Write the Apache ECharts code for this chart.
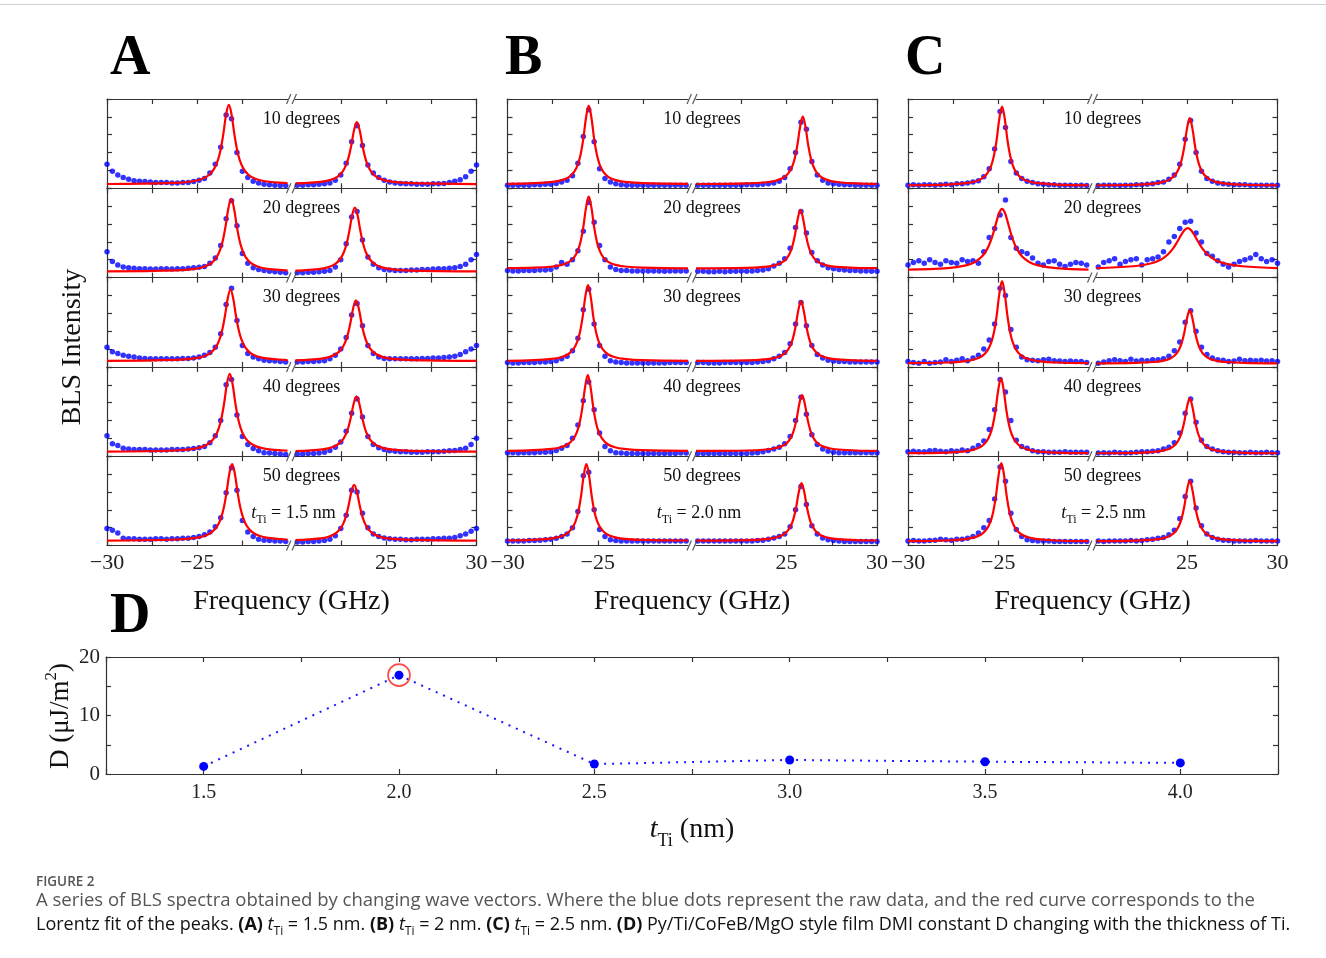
<!DOCTYPE html>
<html>
<head>
<meta charset="utf-8">
<script src="https://cdn.jsdelivr.net/npm/echarts/dist/echarts.min.js"></script>
<style>
  html, body { margin: 0; padding: 0; background: #fff; }
  #chart { width: 1326px; height: 958px; }
</style>
</head>
<body>
<div id="chart"></div>
<script>
// raw-data frequency grid (GHz), two sides of the broken axis
const freqLeft = [-30, -29.7, -29.4, -29.1, -28.8, -28.5, -28.2, -27.9, -27.6, -27.3, -27, -26.7, -26.4, -26.1, -25.8, -25.5, -25.2, -24.9, -24.6, -24.3, -24, -23.7, -23.4, -23.1, -22.8, -22.5, -22.2, -21.9, -21.6, -21.3, -21, -20.7, -20.4, -20.1]
const freqRight = [20.1, 20.4, 20.7, 21, 21.3, 21.6, 21.9, 22.2, 22.5, 22.8, 23.1, 23.4, 23.7, 24, 24.3, 24.6, 24.9, 25.2, 25.5, 25.8, 26.1, 26.4, 26.7, 27, 27.3, 27.6, 27.9, 28.2, 28.5, 28.8, 29.1, 29.4, 29.7, 30]

// Lorentz fit curves are read at these offsets (GHz) from each peak centre, plus the two axis ends
const fitOffsets = [-3, -2, -1.5, -1.1, -0.8, -0.6, -0.45, -0.3, -0.15, 0, 0.15, 0.3, 0.45, 0.6, 0.8, 1.1, 1.5, 2, 3]

const angleLabels = ['10 degrees', '20 degrees', '30 degrees', '40 degrees', '50 degrees']
const panelLetters = ['A', 'B', 'C']
const thicknessLabels = ['1.5', '2.0', '2.5']

const ticksLeft = [-30, -27.5, -25, -22.5]
const ticksRight = [22.5, 25, 27.5, 30]
const labelsLeft = [-30, -25]
const labelsRight = [25, 30]

// peak centres [left, right] per row
const peaksA = [[-23.25, 23.39], [-23.12, 23.28], [-23.16, 23.34], [-23.2, 23.37], [-23.07, 23.24]]
const peaksB = [[-25.5, 25.9], [-25.5, 25.77], [-25.54, 25.8], [-25.55, 25.86], [-25.63, 25.83]]
const peaksC = [[-24.79, 25.15], [-24.79, 25.04], [-24.79, 25.15], [-24.85, 25.15], [-24.83, 25.15]]

// ---- panel A (t_Ti = 1.5 nm) ----
const rawAL = [
  [27, 19, 15, 12, 10, 8.5, 8, 7.5, 7, 6.5, 6.5, 6.5, 6, 6, 6.5, 6.5, 7.5, 9, 11, 17, 27, 46, 82, 78, 40, 19, 12, 8, 6, 4.5, 4, 3.5, 3, 3],
  [29, 18, 14, 12, 11, 10.5, 10, 10, 9.5, 9.5, 10, 10, 9.5, 10, 10, 10.5, 11, 11.5, 12.5, 16, 22, 36, 66, 86, 58, 27, 16, 11, 9, 8, 7, 6.5, 6, 5.5],
  [22, 17, 15, 13, 12, 11, 10, 9.5, 9, 9, 9, 9, 9, 9, 9.5, 9.5, 10, 11, 13, 16, 22, 37, 70, 88, 52, 24, 15, 11, 9, 7.5, 7, 6.5, 6, 5.5],
  [23, 14, 12, 9, 8, 7.5, 7.5, 7.5, 7, 7, 7, 7, 7.5, 7.5, 7.5, 8, 8.5, 9.5, 11, 15, 23, 40, 80, 86, 46, 22, 13, 8.5, 6, 4, 3.5, 3, 2.5, 2],
  [19, 17, 14, 8, 7.5, 7.5, 7, 7, 7, 7.5, 7.5, 7, 7.5, 7.5, 8, 8, 9, 10, 12, 15, 21, 31, 59, 87, 62, 28, 15, 10, 7, 6, 5.5, 5, 5, 4.5]
]
const rawAR = [
  [3.5, 3.5, 4, 4, 4.5, 5, 6, 9, 15, 28, 52, 70, 48, 26, 17, 12, 9, 7, 6, 5.5, 5, 5, 4.5, 4.5, 4.5, 5, 5, 5.5, 6.5, 8, 9.5, 13, 19, 26],
  [5.5, 5.5, 6, 6, 6.5, 7, 8, 12, 20, 38, 68, 74, 42, 23, 15, 11, 9, 8.5, 8, 8, 8, 8.5, 8.5, 9, 9, 9.5, 10, 10, 10.5, 11, 12.5, 15, 20, 26],
  [5.5, 5.5, 6, 6, 6.5, 7, 9, 13, 20, 33, 58, 71, 46, 24, 15, 11, 9.5, 9, 9, 9, 9, 9, 9, 9.5, 9.5, 10, 10, 10.5, 11, 12, 14, 17, 20, 24],
  [2.5, 2.5, 3, 3, 3.5, 4.5, 6.5, 10, 16, 28, 48, 64, 44, 22, 13, 9.5, 7.5, 6, 5.5, 5, 5, 4.5, 4.5, 4.5, 5, 5, 5, 5.5, 6, 6.5, 7.5, 9, 13, 20],
  [4, 4, 4.5, 4.5, 5, 5.5, 7, 11, 19, 34, 62, 60, 36, 20, 13, 10, 8.5, 7.5, 7, 7, 6.5, 6.5, 7, 7, 7, 7.5, 7.5, 8, 8, 9, 11, 13, 16, 19]
]
const fitAL = [
  [4.8, 6.0, 7.9, 10.4, 14.9, 22.3, 31.9, 43.8, 61.5, 82.6, 93.5, 82.6, 61.5, 43.8, 31.9, 22.3, 14.9, 10.4, 7.9, 6.0, 5.9],
  [7.0, 8.1, 9.8, 12.1, 16.2, 23.0, 31.8, 42.6, 58.9, 78.2, 88.2, 78.2, 58.9, 42.6, 31.8, 23.0, 16.2, 12.1, 9.8, 8.1, 8.0],
  [6.7, 7.8, 9.5, 11.7, 15.8, 22.5, 31.1, 41.8, 57.8, 76.8, 86.7, 76.8, 57.8, 41.8, 31.1, 22.5, 15.8, 11.7, 9.5, 7.8, 7.6],
  [5.2, 6.4, 8.2, 10.7, 15.1, 22.4, 31.8, 43.4, 60.8, 81.6, 92.3, 81.6, 60.8, 43.4, 31.8, 22.4, 15.1, 10.7, 8.2, 6.4, 6.2],
  [5.5, 6.7, 8.5, 10.9, 15.3, 22.4, 31.7, 43.1, 60.2, 80.6, 91.2, 80.6, 60.2, 43.1, 31.7, 22.4, 15.3, 10.9, 8.5, 6.7, 6.5]
]
const fitAR = [
  [5.5, 5.7, 7.1, 9.1, 12.6, 18.4, 25.9, 35.2, 49.0, 65.5, 74.0, 65.5, 49.0, 35.2, 25.9, 18.4, 12.6, 9.1, 7.1, 5.7, 4.7],
  [7.7, 7.9, 9.4, 11.4, 15.1, 21.1, 28.8, 38.4, 52.7, 69.7, 78.5, 69.7, 52.7, 38.4, 28.8, 21.1, 15.1, 11.4, 9.4, 7.9, 7.0],
  [7.4, 7.6, 9.0, 10.9, 14.4, 20.0, 27.3, 36.4, 49.9, 66.0, 74.4, 66.0, 49.9, 36.4, 27.3, 20.0, 14.4, 10.9, 9.0, 7.6, 6.7],
  [5.8, 6.0, 7.3, 9.0, 12.2, 17.3, 24.0, 32.2, 44.6, 59.3, 66.9, 59.3, 44.6, 32.2, 24.0, 17.3, 12.2, 9.0, 7.3, 6.0, 5.1],
  [6.1, 6.3, 7.6, 9.3, 12.6, 17.8, 24.5, 32.9, 45.4, 60.3, 68.0, 60.3, 45.4, 32.9, 24.5, 17.8, 12.6, 9.3, 7.6, 6.3, 5.4]
]

// ---- panel B (t_Ti = 2.0 nm) ----
const rawBL = [
  [3.5, 3.5, 3.5, 3.5, 3.5, 4, 4, 4.5, 4.5, 5.5, 7, 9, 14, 28, 58, 88, 52, 22, 11, 7, 5, 4, 3.5, 3.5, 3.5, 3.5, 3.5, 3.5, 3.5, 3.5, 3.5, 3.5, 3.5, 3.5],
  [8, 7.5, 7.5, 8, 8, 8, 8.5, 8.5, 9, 12, 17, 15, 20, 30, 52, 84, 62, 36, 20, 12, 9, 8, 8, 7.5, 7.5, 7.5, 7.5, 7.5, 7.5, 7, 7.5, 7.5, 7.5, 7.5],
  [5, 4.5, 4.5, 5, 5, 5, 5.5, 5.5, 6, 7, 9, 12, 18, 32, 64, 87, 48, 24, 12, 7, 5.5, 5, 4.5, 4.5, 4.5, 4.5, 4.5, 4.5, 4.5, 4.5, 5, 5, 5, 5],
  [4, 4, 3.5, 4, 4, 4, 4.5, 4.5, 5, 6.5, 9, 12, 20, 35, 62, 83, 52, 26, 11, 6, 4, 3.5, 3, 3, 3, 3, 3, 3, 3, 3, 3, 3, 3.5, 3.5],
  [5, 5, 5, 5, 5.5, 5.5, 6, 6.5, 7, 8, 10, 13, 20, 38, 78, 82, 40, 18, 10, 6.5, 5.5, 5, 5, 5, 5, 5, 5, 5, 5, 5, 5, 5, 5, 5]
]
const rawBR = [
  [3.5, 3.5, 3.5, 3.5, 3.5, 3.5, 3.5, 3.5, 3.5, 4, 4, 4, 4.5, 5, 6, 8, 12, 22, 40, 74, 66, 30, 15, 9, 6, 5, 4.5, 4, 4, 3.5, 3.5, 3.5, 3.5, 3.5],
  [7, 7, 6.5, 6.5, 7, 6.5, 7, 7, 7.5, 7, 7.5, 8, 8.5, 10, 13, 16, 21, 33, 56, 74, 50, 28, 19, 14, 11, 10, 9, 8.5, 8, 8, 7.5, 7.5, 7, 7],
  [5, 5, 4.5, 4.5, 4.5, 5, 5, 5, 5, 5, 5, 5.5, 6, 7, 9, 12, 16, 26, 48, 72, 46, 24, 14, 10, 7.5, 6.5, 6, 6, 5.5, 5.5, 5.5, 5.5, 5.5, 5.5],
  [3, 3, 3, 3, 3, 3, 3, 3, 3, 3, 3.5, 4, 5, 6.5, 8, 10, 14, 22, 40, 66, 47, 24, 13, 8, 5.5, 4.5, 4, 4, 4, 4, 4, 4, 4, 4],
  [5, 5, 5, 5, 5, 5, 5, 5, 5, 5, 5, 5.5, 6, 7, 8.5, 10, 13, 21, 40, 66, 46, 22, 13, 8.5, 6.5, 5.5, 5, 4.5, 4.5, 4.5, 4.5, 4.5, 4.5, 4.5]
]
const fitBL = [
  [5.0, 5.7, 7.2, 9.1, 12.6, 18.7, 26.9, 37.8, 55.3, 79.0, 92.7, 79.0, 55.3, 37.8, 26.9, 18.7, 12.6, 9.1, 7.2, 5.7, 4.9],
  [10.5, 11.1, 12.4, 14.2, 17.4, 23.0, 30.5, 40.5, 56.5, 78.3, 90.8, 78.3, 56.5, 40.5, 30.5, 23.0, 17.4, 14.2, 12.4, 11.1, 10.4],
  [6.8, 7.5, 9.0, 10.8, 14.2, 20.1, 28.0, 38.5, 55.5, 78.4, 91.6, 78.4, 55.5, 38.5, 28.0, 20.1, 14.2, 10.8, 9.0, 7.5, 6.8],
  [6.0, 6.7, 8.2, 10.0, 13.4, 19.3, 27.2, 37.7, 54.7, 77.6, 90.8, 77.6, 54.7, 37.7, 27.2, 19.3, 13.4, 10.0, 8.2, 6.7, 6.0],
  [5.6, 6.3, 7.8, 9.7, 13.1, 19.1, 27.0, 37.6, 54.7, 77.9, 91.2, 77.9, 54.7, 37.6, 27.0, 19.1, 13.1, 9.7, 7.8, 6.3, 5.6]
]
const fitBR = [
  [4.8, 5.5, 6.8, 8.5, 11.5, 16.7, 23.8, 33.1, 48.2, 68.6, 80.4, 68.6, 48.2, 33.1, 23.8, 16.7, 11.5, 8.5, 6.8, 5.5, 5.0],
  [10.3, 10.9, 12.0, 13.4, 16.1, 20.6, 26.7, 34.8, 48.0, 65.7, 75.9, 65.7, 48.0, 34.8, 26.7, 20.6, 16.1, 13.4, 12.0, 10.9, 10.5],
  [6.7, 7.3, 8.4, 9.9, 12.6, 17.2, 23.5, 31.7, 45.1, 63.2, 73.6, 63.2, 45.1, 31.7, 23.5, 17.2, 12.6, 9.9, 8.4, 7.3, 6.8],
  [5.9, 6.4, 7.5, 8.9, 11.4, 15.7, 21.6, 29.3, 41.8, 58.7, 68.4, 58.7, 41.8, 29.3, 21.6, 15.7, 11.4, 8.9, 7.5, 6.4, 6.0],
  [5.5, 6.0, 7.1, 8.6, 11.2, 15.6, 21.7, 29.6, 42.5, 60.0, 70.0, 60.0, 42.5, 29.6, 21.7, 15.6, 11.2, 8.6, 7.1, 6.0, 5.6]
]

// ---- panel C (t_Ti = 2.5 nm) ----
const rawCL = [
  [3.5, 4, 3.5, 4, 4, 3.5, 4, 4.5, 4, 5, 5, 6, 7, 8.5, 13, 22, 44, 86, 68, 30, 17, 11, 8, 6.5, 5, 4.5, 4, 4, 3.5, 3.5, 3.5, 3, 3.5, 3],
  [14, 17, 19, 16, 20, 17, 15, 19, 17, 16, 20, 18, 19, 16, 29, 45, 55, 70, 87, 45, 33, 29, 27, 22, 16, 14, 18, 19, 15, 12.5, 15, 17, 16, 14],
  [6, 5, 4, 6, 4, 5, 5.5, 8, 6, 7.5, 9, 7, 10, 13, 20, 30, 48, 88, 80, 42, 22, 11, 8, 7.5, 7, 8, 8.5, 7, 6.5, 6, 6.5, 6, 6, 5],
  [5, 5.5, 5, 5, 6, 6.5, 5.5, 5, 6, 5.5, 7, 6, 9, 12, 17, 30, 52, 86, 72, 40, 18, 11, 9, 6, 5, 5, 4.5, 4.5, 4.5, 5, 4.5, 4.5, 4.5, 4.5],
  [5, 5.5, 5, 5, 5.5, 6, 7, 6.5, 6, 7, 7, 8, 10, 14, 20, 28, 52, 88, 72, 36, 18, 10, 6.5, 5.5, 5, 5, 5, 4.5, 4.5, 4.5, 4.5, 4.5, 4.5, 4.5]
]
const rawCR = [
  [3, 3.5, 3.5, 3.5, 3, 3.5, 3.5, 4, 4, 4.5, 5, 6.5, 7, 10, 15, 27, 55, 76, 40, 19, 11, 8, 6, 5, 4.5, 4, 4, 4, 3.5, 3.5, 3.5, 3.5, 3.5, 3.5],
  [12, 17, 19, 21, 15, 18, 20, 21, 14, 20, 21, 23, 29, 40, 46, 55, 62, 63, 50, 40, 27, 24, 19, 15, 12, 15, 18, 20, 22, 26, 21, 18, 20, 16],
  [4, 5.5, 7, 8, 7, 6, 8.5, 6.5, 7.5, 7, 8, 8, 9, 12, 18, 28, 50, 63, 40, 22, 14, 10, 8, 7.5, 6, 6.5, 8.5, 7, 7.5, 7, 7.5, 6.5, 7, 6],
  [3.5, 4, 3.5, 4.5, 4, 3.5, 4, 4.5, 5, 5, 5.5, 6, 8, 10, 15, 26, 48, 64, 38, 18, 11, 8, 6, 5, 4.5, 4.5, 4, 4, 4.5, 4, 4, 4.5, 4, 4],
  [5, 4.5, 5, 5, 5, 5, 5.5, 5, 5.5, 6.5, 7, 8, 9, 12, 17, 30, 55, 72, 42, 22, 13, 9, 7, 6, 5.5, 5, 5, 5, 5, 5.5, 5, 5, 5, 5]
]
const fitCL = [
  [3.4, 4.2, 5.7, 7.6, 11.2, 17.3, 25.5, 36.4, 54.0, 77.9, 91.6, 77.9, 54.0, 36.4, 25.5, 17.3, 11.2, 7.6, 5.7, 4.2, 3.4],
  [9.0, 10.6, 13.7, 17.5, 23.8, 32.8, 42.5, 52.2, 63.2, 72.9, 77.0, 72.9, 63.2, 52.2, 42.5, 32.8, 23.8, 17.5, 13.7, 10.6, 9.0],
  [4.2, 4.9, 6.5, 8.5, 12.2, 18.6, 27.1, 38.5, 56.9, 81.7, 96.0, 81.7, 56.9, 38.5, 27.1, 18.6, 12.2, 8.5, 6.5, 4.9, 4.2],
  [3.4, 4.1, 5.5, 7.4, 10.7, 16.5, 24.4, 34.7, 51.4, 74.1, 87.1, 74.1, 51.4, 34.7, 24.4, 16.5, 10.7, 7.4, 5.5, 4.1, 3.4],
  [4.9, 5.6, 7.1, 9.1, 12.6, 18.6, 26.8, 37.6, 55.1, 78.7, 92.3, 78.7, 55.1, 37.6, 26.8, 18.6, 12.6, 9.1, 7.1, 5.6, 4.9]
]
const fitCR = [
  [3.4, 4.0, 5.3, 6.9, 10.0, 15.2, 22.2, 31.5, 46.5, 66.8, 78.5, 66.8, 46.5, 31.5, 22.2, 15.2, 10.0, 6.9, 5.3, 4.0, 3.4],
  [10.7, 12.7, 16.1, 20.0, 25.9, 33.0, 39.3, 44.7, 49.9, 53.8, 55.3, 53.8, 49.9, 44.7, 39.3, 33.0, 25.9, 20.0, 16.1, 12.7, 10.7],
  [4.0, 4.5, 5.5, 6.8, 9.2, 13.3, 18.9, 26.3, 38.2, 54.3, 63.6, 54.3, 38.2, 26.3, 18.9, 13.3, 9.2, 6.8, 5.5, 4.5, 4.0],
  [3.3, 3.8, 4.9, 6.2, 8.7, 12.9, 18.7, 26.3, 38.5, 55.1, 64.7, 55.1, 38.5, 26.3, 18.7, 12.9, 8.7, 6.2, 4.9, 3.8, 3.3],
  [4.8, 5.4, 6.5, 8.0, 10.8, 15.5, 21.8, 30.1, 43.7, 62.0, 72.5, 62.0, 43.7, 30.1, 21.8, 15.5, 10.8, 8.0, 6.5, 5.4, 4.8]
]

// ---- panel D: DMI constant vs Ti thickness ----
const tiNm = [1.5, 2.0, 2.5, 3.0, 3.5, 4.0]
const dmi = [1.3, 16.9, 1.7, 2.4, 2.1, 1.9]
const dLabelsX = [1.5, 2.0, 2.5, 3.0, 3.5, 4.0]
const dLabelsY = [0, 10, 20]

const SERIF = "'Liberation Serif', 'Times New Roman', serif"
const SANS = "'Open Sans', 'Noto Sans', sans-serif"
const RED = '#ff0000'
const BLUE = '#0000ff'
const FRAME = { color: '#333', width: 1.2 }
const BREAK_PATH = 'path://M0,10L4,0M5,10L9,0'

const PANEL_X = [107, 507.5, 908]
const LETTER_X = [110, 505, 905]
const HALF_OFF = [0, 188.5]
const HALF_W = [180.5, 181]
const ROW_TOP = 99
const ROW_H = 89.3

const columns = [
  { peaks: peaksA, rawL: rawAL, rawR: rawAR, fitL: fitAL, fitR: fitAR },
  { peaks: peaksB, rawL: rawBL, rawR: rawBR, fitL: fitBL, fitR: fitBR },
  { peaks: peaksC, rawL: rawCL, rawR: rawCR, fitL: fitCL, fitR: fitCR }
]

const fmtFreq = v => (v < 0 ? '\u2212' + Math.abs(v) : String(v))

let grid = []
let xAxis = []
let yAxis = []
let series = []

columns.map((col, c) => {
  for (let r = 0; r < 5; r++) {
    for (let s = 0; s < 2; s++) {
      const gi = grid.length
      grid.push({
        left: PANEL_X[c] + HALF_OFF[s],
        top: ROW_TOP + r * ROW_H,
        width: HALF_W[s],
        height: ROW_H
      })
      const lo = s ? 20 : -30
      const hi = s ? 30 : -20
      const base = {
        gridIndex: gi,
        type: 'value',
        min: lo,
        max: hi,
        interval: 2.5,
        axisLine: { onZero: false, lineStyle: FRAME },
        axisTick: { inside: true, length: 5, lineStyle: FRAME, customValues: s ? ticksRight : ticksLeft },
        splitLine: { show: false }
      }
      xAxis.push(Object.assign({}, base, {
        position: 'bottom',
        axisLabel: {
          show: r === 4,
          customValues: s ? labelsRight : labelsLeft,
          formatter: fmtFreq,
          fontFamily: SERIF,
          fontSize: 22,
          color: '#222',
          margin: 7
        }
      }))
      xAxis.push(Object.assign({}, base, { position: 'top', axisLabel: { show: false } }))
      yAxis.push({
        gridIndex: gi,
        type: 'value',
        min: 0,
        max: 100,
        interval: 20,
        position: s ? 'right' : 'left',
        axisLine: { show: true, onZero: false, lineStyle: FRAME },
        axisTick: { show: true, inside: true, length: 5, lineStyle: FRAME },
        axisLabel: { show: false },
        splitLine: { show: false }
      })

      const freq = s ? freqRight : freqLeft
      const raw = (s ? col.rawR : col.rawL)[r]
      series.push({
        type: 'scatter',
        xAxisIndex: 2 * gi,
        yAxisIndex: gi,
        data: freq.map((f, i) => [f, raw[i]]),
        symbolSize: 5.5,
        itemStyle: { color: BLUE },
        silent: true,
        z: 2
      })

      const centre = col.peaks[r][s]
      const fitX = [lo].concat(fitOffsets.map(o => Math.round((centre + o) * 1000) / 1000), [hi])
      const fit = (s ? col.fitR : col.fitL)[r]
      series.push({
        type: 'line',
        xAxisIndex: 2 * gi,
        yAxisIndex: gi,
        data: fitX.map((f, i) => [f, fit[i]]),
        smooth: 0.4,
        showSymbol: false,
        lineStyle: { color: RED, width: 2.2 },
        silent: true,
        z: 3
      })

      if (s === 0) {
        // "//" axis-break marks
        const marks = [[hi, 100]]
        if (r === 4) marks.push([hi, 0])
        series.push({
          type: 'scatter',
          xAxisIndex: 2 * gi,
          yAxisIndex: gi,
          data: marks,
          symbol: BREAK_PATH,
          symbolSize: [10, 10],
          symbolOffset: [4, 0],
          clip: false,
          itemStyle: { color: 'transparent', borderColor: '#333', borderWidth: 1.2 },
          silent: true,
          z: 5
        })
      }
    }
  }
})

// panel D
const gD = grid.length
grid.push({ left: 106, top: 657, width: 1172, height: 117 })
const dX = {
  gridIndex: gD,
  type: 'value',
  min: 1.25,
  max: 4.25,
  interval: 0.25,
  axisLine: { onZero: false, lineStyle: FRAME },
  axisTick: { inside: true, length: 5, lineStyle: FRAME },
  splitLine: { show: false }
}
xAxis.push(Object.assign({}, dX, {
  position: 'bottom',
  axisLabel: {
    customValues: dLabelsX,
    formatter: v => v.toFixed(1),
    fontFamily: SERIF,
    fontSize: 20,
    color: '#222',
    margin: 9
  }
}))
xAxis.push(Object.assign({}, dX, { position: 'top', axisLabel: { show: false } }))
const dY = {
  gridIndex: gD,
  type: 'value',
  min: 0,
  max: 20,
  interval: 5,
  axisLine: { show: true, onZero: false, lineStyle: FRAME },
  axisTick: { show: true, inside: true, length: 5, lineStyle: FRAME },
  splitLine: { show: false }
}
yAxis.push(Object.assign({}, dY, {
  position: 'left',
  axisLabel: { customValues: dLabelsY, fontFamily: SERIF, fontSize: 21, color: '#222', margin: 6 }
}))
yAxis.push(Object.assign({}, dY, { position: 'right', axisLabel: { show: false } }))

const dXi = xAxis.length - 2
const dYi = yAxis.length - 2
series.push({
  type: 'line',
  xAxisIndex: dXi,
  yAxisIndex: dYi,
  data: tiNm.map((t, i) => [t, dmi[i]]),
  symbol: 'circle',
  symbolSize: 9,
  itemStyle: { color: '#0000ff' },
  lineStyle: { color: '#1a1aff', width: 2, type: [2, 6] },
  silent: true,
  z: 3
})
const peakIdx = dmi.indexOf(Math.max(...dmi))
series.push({
  type: 'scatter',
  xAxisIndex: dXi,
  yAxisIndex: dYi,
  data: [[tiNm[peakIdx], dmi[peakIdx]]],
  symbol: 'circle',
  symbolSize: 22,
  itemStyle: { color: 'transparent', borderColor: '#ff1a1a', borderWidth: 1.6 },
  silent: true,
  z: 4
})

// text
const graphic = []
const text = (x, y, str, style, extra) => {
  graphic.push(Object.assign({
    type: 'text',
    x: x,
    y: y,
    silent: true,
    style: Object.assign({ text: str, fill: '#111', align: 'center', verticalAlign: 'middle' }, style)
  }, extra || {}))
}

graphic.push({ type: 'line', silent: true, shape: { x1: 0, y1: 4.5, x2: 1326, y2: 4.5 }, style: { stroke: '#d0d0d0', lineWidth: 1 } })

const tRich = size => ({
  i: { fontFamily: SERIF, fontSize: size, fontStyle: 'italic', lineHeight: size * 1.45, verticalAlign: 'middle', color: '#111' },
  s: { fontFamily: SERIF, fontSize: Math.round(size * 0.66), lineHeight: Math.round(size * 0.66), verticalAlign: 'bottom', color: '#111' },
  n: { fontFamily: SERIF, fontSize: size, lineHeight: size * 1.45, verticalAlign: 'middle', color: '#111' }
})

const thickX = [186.5, 191.5, 195.5]
PANEL_X.map((px, c) => {
  text(LETTER_X[c], 60, panelLetters[c], { font: "bold 56px " + SERIF, align: 'left', fill: '#000' })
  angleLabels.map((lab, r) => {
    text(px + 194.5, ROW_TOP + r * ROW_H + 20, lab, { font: "18px " + SERIF })
  })
  text(px + thickX[c], ROW_TOP + 4 * ROW_H + 57, '{i|t}{s|Ti}{n| = ' + thicknessLabels[c] + ' nm}', { rich: tRich(18) })
  text(px + 184.5, 602, 'Frequency (GHz)', { font: "28px " + SERIF })
})
text(110, 618, 'D', { font: "bold 56px " + SERIF, align: 'left', fill: '#000' })
text(73, 347, 'BLS Intensity', { font: "28px " + SERIF }, { rotation: Math.PI / 2 })
text(61, 716, '{n|D (\u03bcJ/m}{p|2}{n|)}', {
  rich: {
    n: { fontFamily: SERIF, fontSize: 27, lineHeight: 36, verticalAlign: 'middle', color: '#111' },
    p: { fontFamily: SERIF, fontSize: 17, lineHeight: 17, verticalAlign: 'top', color: '#111' }
  }
}, { rotation: Math.PI / 2 })
text(692, 830, '{i|t}{s|Ti}{n| (nm)}', { rich: tRich(28) })

// caption
const CAP_GREY = '#555'
const cap = {
  n: { fontFamily: SANS, fontSize: 18, color: CAP_GREY, lineHeight: 26, verticalAlign: 'middle' },
  b: { fontFamily: SANS, fontSize: 18, fontWeight: 'bold', color: '#444', lineHeight: 26, verticalAlign: 'middle' },
  i: { fontFamily: SANS, fontSize: 18, fontStyle: 'italic', color: CAP_GREY, lineHeight: 26, verticalAlign: 'middle' },
  s: { fontFamily: SANS, fontSize: 12, color: CAP_GREY, lineHeight: 12, verticalAlign: 'bottom' }
}
text(36, 882, 'FIGURE 2', { font: "600 13.5px " + SANS, fill: '#555', align: 'left' })
text(36, 901, 'A series of BLS spectra obtained by changing wave vectors. Where the blue dots represent the raw data, and the red curve corresponds to the',
  { font: "18.5px " + SANS, fill: CAP_GREY, align: 'left' })
text(36, 925,
  '{n|Lorentz fit of the peaks. }{b|(A)}{n| }{i|t}{s|Ti}{n| = 1.5 nm. }{b|(B)}{n| }{i|t}{s|Ti}{n| = 2 nm. }{b|(C)}{n| }{i|t}{s|Ti}{n| = 2.5 nm. }{b|(D)}{n| Py/Ti/CoFeB/MgO style film DMI constant D changing with the thickness of Ti.}',
  { rich: cap, align: 'left' })

const chart = echarts.init(document.getElementById('chart'))
chart.setOption({
  animation: false,
  backgroundColor: '#fff',
  grid: grid,
  xAxis: xAxis,
  yAxis: yAxis,
  series: series,
  graphic: graphic
})
</script>
</body>
</html>
